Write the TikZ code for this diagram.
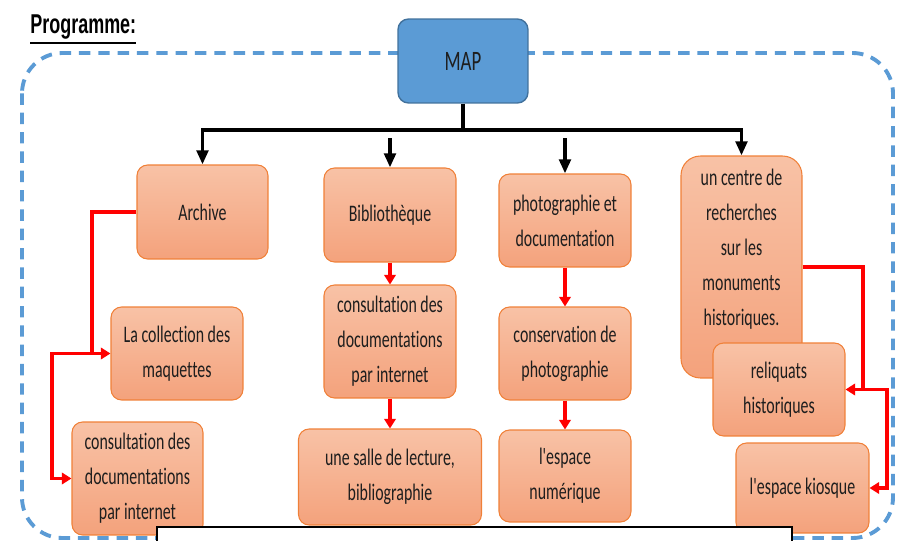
\documentclass[tikz,border=0pt]{standalone}
\usepackage{fontspec}
\usepackage{xcolor}
\definecolor{mapblue}{RGB}{91,155,213}
\definecolor{mapborder}{RGB}{65,113,156}
\definecolor{boxtop}{RGB}{248,194,166}
\definecolor{boxbottom}{RGB}{244,162,124}
\definecolor{boxborder}{RGB}{240,128,56}
\definecolor{textgray}{RGB}{30,30,30}
\newfontfamily\boxfont[FakeStretch=0.67, Ligatures=NoCommon]{Carlito}
\newfontfamily\titlefont[FakeStretch=0.66]{Liberation Sans}
\newcommand{\thickul}[1]{\vtop{\hbox{#1}\kern1.6pt\hrule height 1.3pt}}
\usetikzlibrary{shapes,arrows,arrows.meta,calc,positioning}

\begin{document}
\begin{tikzpicture}[x=0.02cm, y=-0.02cm,
  mapbox/.style={rectangle, draw=mapborder, fill=mapblue, line width=0.8pt, rounded corners=6pt, minimum width=2.6cm, minimum height=1.68cm, font=\boxfont\fontsize{16}{18}\selectfont, text=textgray},
  orangebox/.style={rectangle, draw=boxborder, line width=0.6pt, top color=boxtop, bottom color=boxbottom, rounded corners=6pt, minimum width=2.64cm, minimum height=1.86cm, inner sep=2pt, align=center, font=\boxfont\fontsize{13.5}{19.9}\selectfont, text=textgray},
  frame/.style={draw=mapblue, line width=2.2pt, dash pattern=on 6.5pt off 4.5pt, rounded corners=23pt},
  tree/.style={line width=2.2pt, black},
  treearrow/.style={tree, ->, >={Triangle[length=8pt,width=6.5pt]}},
  redarrow/.style={->, >={Triangle[length=5.5pt,width=6.5pt]}, red, line width=2pt}
]

% Title and frame
\useasboundingbox (0,0) rectangle (921,541);
\node[anchor=base west, inner sep=0pt, font=\titlefont\bfseries\fontsize{15.5}{18}\selectfont] (title) at (30,33) {\thickul{Programme:}};
\draw[frame] (22,53) rectangle (893,538);

% Top
\node[mapbox] (map) at (463,61) {MAP};

% Column 1
\node[orangebox, minimum width=2.62cm, minimum height=1.88cm] (archive) at (202.5,212) {Archive};
\node[orangebox] (collection) at (177,353.5) {La collection des\\maquettes};
\node[orangebox, minimum width=2.62cm, minimum height=2.26cm] (consultA) at (137.5,478.5) {consultation des\\documentations\\par internet};

% Column 2
\node[orangebox, minimum height=1.88cm] (biblio) at (390,215) {Biblioth\`eque};
\node[orangebox, minimum height=2.26cm] (consultB) at (390,341.5) {consultation des\\documentations\\par internet};
\node[orangebox, minimum width=3.66cm, minimum height=1.92cm] (salle) at (390,477) {une salle de lecture,\\bibliographie};

% Column 3
\node[orangebox] (photo) at (565,220.5) {photographie et\\documentation};
\node[orangebox] (conserv) at (565,353.5) {conservation de\\photographie};
\node[orangebox, minimum height=1.84cm] (numer) at (565,476) {l'espace\\num\'erique};

% Column 4
\node[orangebox, minimum width=2.42cm, minimum height=4.44cm, rounded corners=11pt, text depth=22pt] (centre) at (741.5,267) {un centre de\\recherches\\sur les\\monuments\\historiques.};
\node[orangebox] (reliq) at (779,389.5) {reliquats\\historiques};
\node[orangebox, minimum width=2.66cm, minimum height=1.8cm] (kiosque) at (802.5,488) {l'espace kiosque};

% Tree
\coordinate (bar) at (463,130);
\coordinate (bibtop) at (390,138);
\coordinate (phototop) at (565,138);
\draw[tree] (map) -- (bar);
\draw[treearrow] (bar) -| (archive);
\draw[treearrow] (bar) -| (centre);
\draw[treearrow] (bibtop) -- (biblio);
\draw[treearrow] (phototop) -- (photo);

% Red links
\coordinate (redA) at (92,353.5);
\coordinate (redB) at (52,353.5);
\coordinate (redC) at (863,389.5);
\coordinate (redD) at (887,389.5);
\draw[redarrow] (archive.west) -| (redA) -- (collection.west);
\draw[redarrow] (redA) -- (redB) |- (consultA.west);
\draw[redarrow] (biblio) -- (consultB);
\draw[redarrow] (consultB) -- (salle);
\draw[redarrow] (photo) -- (conserv);
\draw[redarrow] (conserv) -- (numer);
\draw[redarrow] (centre.east) -| (redC) -- (reliq.east);
\draw[redarrow] (redC) -- (redD) |- (kiosque.east);

% Blank panel at the bottom
\draw[black, line width=1.2pt, fill=white] (157,527) rectangle (792,570);

\end{tikzpicture}
\end{document}
